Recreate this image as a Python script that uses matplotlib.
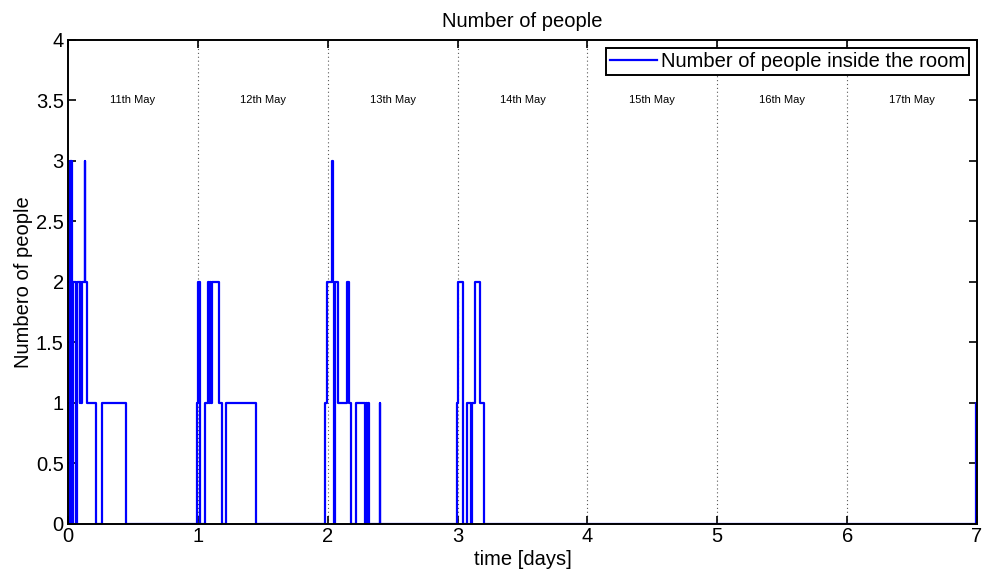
import matplotlib
matplotlib.use("Agg")
import matplotlib.pyplot as plt
import numpy as np

plt.rcParams['font.family'] = ['Liberation Sans', 'DejaVu Sans']

# step series: (time in days, number of people from that time on)
times = [0.000, 0.012, 0.030, 0.035, 0.040, 0.065, 0.072, 0.090, 0.095, 0.103,
         0.108, 0.128, 0.134, 0.146, 0.216, 0.262, 0.447,
         0.990, 0.998, 1.015, 1.055, 1.075, 1.085, 1.090, 1.105, 1.110, 1.165,
         1.190, 1.217, 1.447,
         1.980, 1.997, 2.030, 2.038, 2.045, 2.055, 2.080, 2.145, 2.168, 2.178,
         2.217, 2.290, 2.295, 2.305, 2.310, 2.318, 2.400, 2.405,
         2.993, 3.005, 3.040, 3.070, 3.105, 3.112, 3.135, 3.172, 3.206,
         6.995, 7.000]
people = [0, 3, 2, 0, 2, 0, 2, 1, 2, 1,
          2, 3, 2, 1, 0, 1, 0,
          1, 2, 0, 1, 2, 1, 2, 1, 2, 1,
          0, 1, 0,
          1, 2, 3, 2, 0, 2, 1, 2, 1, 0,
          1, 0, 1, 0, 1, 0, 1, 0,
          1, 2, 0, 1, 0, 1, 2, 1, 0,
          1, 1]

day_labels = ["11th May", "12th May", "13th May", "14th May",
              "15th May", "16th May", "17th May"]
xticks = [0, 1, 2, 3, 4, 5, 6, 7]
yticks = [0, 0.5, 1, 1.5, 2, 2.5, 3, 3.5, 4]
ytick_labels = ["0", "0.5", "1", "1.5", "2", "2.5", "3", "3.5", "4"]

FS = 14.5

fig = plt.figure(figsize=(9.82, 5.76), dpi=100)
ax = fig.add_axes([0.0692, 0.0903, 0.9257, 0.8403])

ax.step(times, people, where='post', color=(0, 0, 1), lw=1.6,
        label="Number of people inside the room")

for d in range(1, 7):
    ax.axvline(d, color='0.35', lw=0.8, ls=(0, (1, 2.5)), zorder=0)

for i, lab in enumerate(day_labels):
    ax.text(i + 0.5, 3.5, lab, ha='center', va='center', fontsize=8)

ax.set_xlim(0, 7)
ax.set_ylim(0, 4)
ax.set_xticks(xticks)
ax.set_yticks(yticks)
ax.set_yticklabels(ytick_labels)
ax.tick_params(direction='in', top=True, right=True, labelsize=FS,
               length=6, width=1.2)
ax.tick_params(axis='x', pad=2)
ax.tick_params(axis='y', pad=3)
for s in ax.spines.values():
    s.set_linewidth(1.4)

ax.set_title("Number of people", fontsize=FS, pad=9)
ax.set_xlabel("time [days]", fontsize=FS, labelpad=3)
ax.set_ylabel("Numbero of people", fontsize=FS, labelpad=2)

leg = ax.legend(loc='upper right', fontsize=FS, fancybox=False,
                framealpha=1, edgecolor='black', borderpad=0.2,
                handlelength=2.3, handletextpad=0.2, borderaxespad=0.4)
leg.get_frame().set_linewidth(1.4)

fig.savefig("out.png", dpi=100)
